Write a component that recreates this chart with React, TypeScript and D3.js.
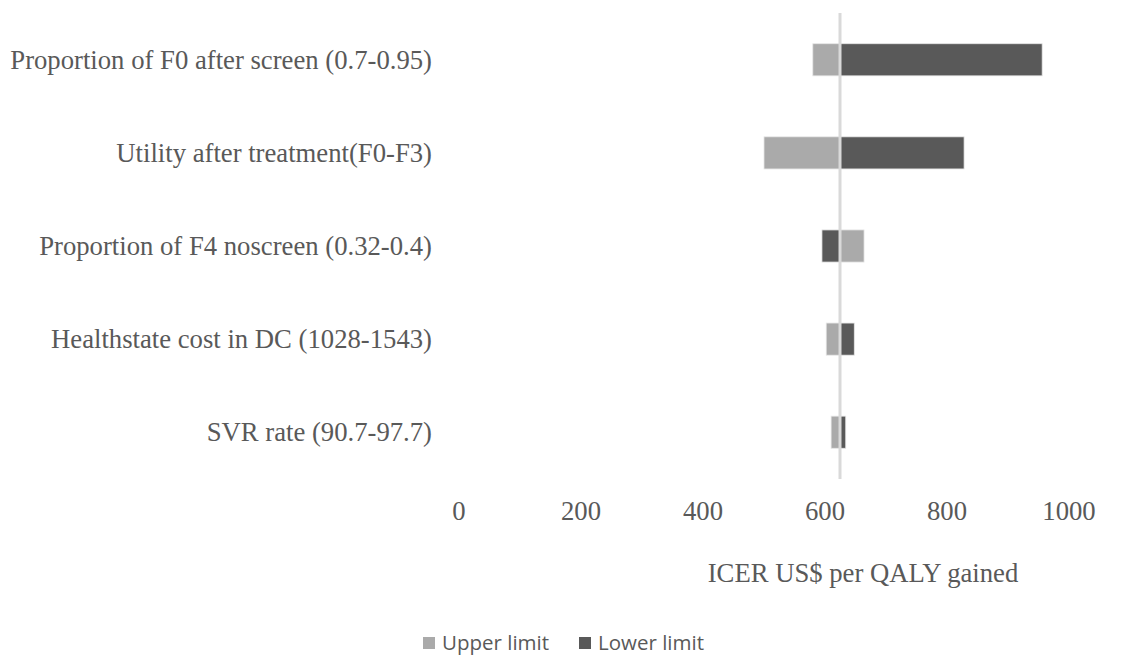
import React from "react";
import * as d3 from "d3";

const categories = [
  "Proportion of F0 after screen (0.7-0.95)",
  "Utility after treatment(F0-F3)",
  "Proportion of F4 noscreen (0.32-0.4)",
  "Healthstate cost in DC (1028-1543)",
  "SVR rate (90.7-97.7)",
];
const upperLimit = [580, 500, 664, 602, 610];
const lowerLimit = [956, 828, 595, 648, 634];
const baseValue = 624.6;
const xTicks = [0, 200, 400, 600, 800, 1000];
const seriesNames = ["Upper limit", "Lower limit"];

const W = 1121;
const H = 655;
const LIGHT = "#aaaaaa";
const DARK = "#595959";
const TEXT = "#595959";
const SERIF = "'Liberation Serif', 'Times New Roman', serif";

export default function App() {
  const x = d3.scaleLinear().domain([0, 1000]).range([459, 1069]);
  const y = d3.scaleBand<string>().domain(categories).range([13, 479]).paddingInner(0.655).paddingOuter(0.33);
  const bh = y.bandwidth();
  const x0 = x(baseValue);
  const colors = [LIGHT, DARK];
  const series = [upperLimit, lowerLimit];

  return (
    <div style={{ position: "absolute", left: 0, top: 0 }}>
      <svg width={W} height={H} style={{ display: "block", background: "#fff" }}>
        {series.map((vals, si) =>
          categories.map((c, i) => {
            const v = vals[i];
            const a = x(Math.min(v, baseValue));
            const b = x(Math.max(v, baseValue));
            return (
              <rect
                key={si + "-" + i}
                x={a}
                y={y(c)}
                width={b - a}
                height={bh}
                fill={colors[si]}
                stroke="#e6e6e6"
                strokeWidth={0.8}
              />
            );
          })
        )}
        <line x1={x0} x2={x0} y1={13} y2={479} stroke="#d9d9d9" strokeWidth={3} />
        {categories.map((c) => (
          <text
            key={c}
            x={432}
            y={(y(c) as number) + bh / 2}
            textAnchor="end"
            dominantBaseline="central"
            fontFamily={SERIF}
            fontSize={26.7}
            fill={TEXT}
          >
            {c}
          </text>
        ))}
        {xTicks.map((t) => (
          <text
            key={t}
            x={x(t)}
            y={511}
            textAnchor="middle"
            dominantBaseline="central"
            fontFamily={SERIF}
            fontSize={26.7}
            fill={TEXT}
          >
            {t}
          </text>
        ))}
        <text
          x={863}
          y={573}
          textAnchor="middle"
          dominantBaseline="central"
          fontFamily={SERIF}
          fontSize={26.7}
          fill={TEXT}
        >
          ICER US$ per QALY gained
        </text>
        {seriesNames.map((s, i) => {
          const lx = i === 0 ? 423 : 579;
          return (
            <g key={s}>
              <rect x={lx} y={637} width={12} height={12} fill={colors[i]} />
              <text
                x={lx + 19}
                y={642}
                dominantBaseline="central"
                fontFamily="'Open Sans', 'Liberation Sans', sans-serif"
                fontSize={20.5}
                fill={TEXT}
              >
                {s}
              </text>
            </g>
          );
        })}
      </svg>
    </div>
  );
}
